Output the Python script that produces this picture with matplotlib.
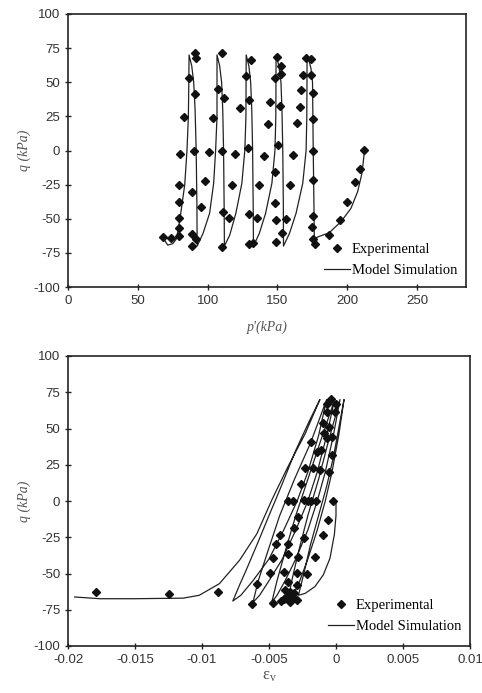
import matplotlib
matplotlib.use("Agg")
import matplotlib.pyplot as plt
from matplotlib.lines import Line2D

plt.rcParams["axes.unicode_minus"] = False

# ---------------- data: top panel (q vs p') ----------------
top_exp_p = [67.9, 74.0, 79.3, 79.3, 79.3, 79.3, 79.3, 80.5, 82.9, 86.4, 91.2, 91.7, 91.2, 90.5,
             88.8, 88.8, 88.8, 91.9,
             95.5, 98.3, 101.0, 103.8, 107.1, 110.0, 111.4, 110.5, 110.7, 110.2, 115.2, 117.4,
             119.8, 123.1, 127.4, 131.0, 129.8, 128.8, 129.8, 129.8, 132.6, 135.0, 136.9,
             140.5, 143.3, 145.0, 148.3, 150.0, 152.4, 152.4, 151.7, 150.2, 147.9, 147.9, 148.6,
             148.6, 153.1, 156.0, 158.8, 161.4, 163.8, 166.0, 167.1, 168.6, 170.5, 173.8, 174.3,
             175.2, 175.2, 175.2, 175.2, 175.2, 175.0, 175.7, 176.9,
             186.9, 194.8, 200.0, 205.2, 209.3, 212.1]
top_exp_q = [-63.4, -64.4, -62.9, -57.1, -49.5, -37.8, -25.1, -2.4, 24.4, 53.2, 71.7, 67.6, 41.2, -0.2,
             -30.7, -61.2, -70.2, -64.6,
             -41.5, -22.7, -1.2, 23.7, 44.9, 71.2, 38.3, -0.2, -45.1, -70.7, -49.5, -25.6,
             -2.4, 31.0, 54.9, 66.3, 37.1, 1.7, -46.6, -68.3, -67.8, -49.5, -25.6,
             -3.7, 19.3, 35.4, 52.9, 68.3, 62.0, 56.1, 32.7, 3.7, -15.4, -38.5, -51.2,
             -67.3, -60.5, -50.0, -25.6, -3.2, 20.5, 32.2, 44.1, 55.1, 67.6, 66.8, 55.1,
             42.4, 23.2, 0.0, -21.5, -47.8, -56.1, -64.6, -68.5,
             -61.7, -50.7, -37.8, -23.2, -13.4, 0.5]

top_model_p = [212.4, 210.5, 207.4, 202.6, 195.5, 187.1, 176.4,
               176.0, 175.6, 175.3, 175.1, 174.0, 172.5, 171.2,
               171.1, 171.0, 170.5, 168.1, 163.3, 158.6, 154.3,
               154.2, 153.8, 153.2, 152.5, 151.0, 149.0,
               148.9, 148.8, 148.2, 146.0, 141.5, 137.0, 132.8,
               132.6, 132.2, 131.6, 130.8, 129.5, 127.6,
               127.5, 127.4, 126.6, 124.5, 120.2, 115.8, 112.0,
               111.8, 111.4, 110.8, 110.0, 108.6, 106.7,
               106.7, 106.7, 105.7, 104.3, 101.4, 96.7, 92.5,
               92.3, 91.8, 91.0, 90.0, 88.6, 86.7,
               86.5, 86.2, 85.2, 83.6, 80.2, 78.5, 77.4, 75.0, 71.4, 69.5]
top_model_q = [0.4, -16.7, -30.2, -42.4, -52.1, -60.2, -64.3,
               -30.0, 0.0, 30.0, 50.0, 60.0, 66.0, 70.0,
               45.0, 24.0, 0.0, -24.0, -46.0, -60.7, -70.0,
               -40.0, 0.0, 30.0, 50.0, 62.0, 70.0,
               45.0, 24.0, 0.0, -24.0, -46.0, -60.7, -70.0,
               -40.0, 0.0, 30.0, 50.0, 62.0, 70.0,
               45.0, 24.0, 0.0, -24.0, -46.0, -62.0, -70.0,
               -40.0, 0.0, 30.0, 50.0, 62.0, 70.0,
               45.0, 24.8, 0.0, -24.0, -46.0, -60.7, -70.0,
               -40.0, 0.0, 30.0, 50.0, 62.0, 70.0,
               50.0, 25.0, 0.0, -25.0, -50.0, -60.0, -65.1, -68.3, -69.3, -66.3]

# ---------------- data: bottom panel (q vs eps_v) ----------------
bot_exp_e = [-0.0179, -0.0125, -0.0088,
             -0.0063, -0.0059, -0.0047, -0.0049, -0.0047, -0.0045, -0.0042,
             -0.0036, -0.0032, -0.0024, -0.0021, -0.0019, -0.0015, -0.0002,
             -0.0028, -0.0031, -0.0006, -0.0010, -0.0036, -0.0024, -0.0016, -0.0036,
             -0.0028, -0.0039, -0.0029, -0.0022, -0.0036, -0.0029, -0.0038, -0.0034,
             -0.0031, -0.0037, -0.0029, -0.0034, -0.0039, -0.0033, -0.0041,
             -0.0004, -0.0007, 0.0000, -0.0007, -0.0001, -0.0010, -0.0005, -0.0019,
             -0.0007, -0.0011, -0.0014, -0.0023, -0.0017, -0.0012, -0.0005, -0.0003,
             -0.0009, -0.0003, -0.0026]
bot_exp_q = [-62.8, -63.9, -62.8,
             -70.8, -57.0, -70.6, -49.9, -39.5, -29.9, -23.4,
             0.0, 0.0, 0.7, 0.0, 0.0, 0.0, 0.0,
             -10.8, -18.9, -13.1, -23.4, -29.9, -25.7, -38.4, -36.8,
             -38.4, -49.2, -49.9, -50.6, -55.6, -57.9, -61.4, -62.5,
             -63.7, -66.0, -68.3, -69.4, -67.6, -66.5, -69.0,
             70.6, 67.1, 67.1, 61.6, 61.6, 53.6, 51.3, 40.9,
             43.2, 35.2, 34.0, 22.6, 22.6, 21.4, 20.2, 31.5,
             47.0, 44.0, 12.0]

bot_model_e = [0.0000, 0.0000, -0.00012, -0.00045, -0.00095, -0.00157, -0.0023, -0.0028,
               -0.0024, -0.0019, -0.0013, -0.0007, -0.0002, 0.0002, 0.0006,
               0.0002, -0.0003, -0.0008, -0.0014, -0.0021, -0.0027, -0.0032, -0.0036,
               -0.0033, -0.0028, -0.0021, -0.0013, -0.0006, 0.0003,
               -0.0002, -0.0008, -0.0014, -0.0021, -0.0030, -0.0038, -0.0044, -0.0048,
               -0.0044, -0.0038, -0.0030, -0.0021, -0.0012, -0.0001,
               -0.0007, -0.0014, -0.0021, -0.0030, -0.0040, -0.0050, -0.0057, -0.0062,
               -0.0058, -0.0051, -0.0042, -0.0031, -0.0019, -0.0007,
               -0.0013, -0.0021, -0.0029, -0.0039, -0.0050, -0.0062, -0.0071, -0.0077,
               -0.0072, -0.0067, -0.0058, -0.0050, -0.0042, -0.0030, -0.0020, -0.0012,
               -0.0023, -0.0036, -0.0048, -0.0059, -0.0072, -0.0087, -0.0102, -0.0114,
               -0.0151, -0.0176, -0.0195]
bot_model_q = [0.0, -10.0, -23.0, -39.5, -51.0, -59.0, -63.7, -65.0,
               -50.0, -30.0, -10.0, 10.0, 30.0, 50.0, 70.0,
               45.0, 20.0, 0.0, -20.0, -40.0, -55.0, -65.0, -69.0,
               -55.0, -35.0, -10.0, 15.0, 40.0, 70.0,
               45.0, 20.0, 0.0, -20.0, -40.0, -55.0, -65.0, -70.0,
               -55.0, -35.0, -10.0, 15.0, 40.0, 70.0,
               45.0, 20.0, 0.0, -20.0, -40.0, -55.0, -65.0, -70.0,
               -55.0, -35.0, -10.0, 15.0, 40.0, 70.0,
               45.0, 20.0, 0.0, -20.0, -40.0, -55.0, -65.0, -69.0,
               -58.0, -47.6, -28.0, -10.0, 7.6, 35.0, 55.0, 70.0,
               46.4, 23.4, 0.5, -22.5, -40.9, -57.0, -65.0, -67.0,
               -67.4, -67.4, -66.2]

top_xticks = [0, 50, 100, 150, 200, 250]
yticks = [-100, -75, -50, -25, 0, 25, 50, 75, 100]
bot_xticks = [-0.02, -0.015, -0.01, -0.005, 0, 0.005, 0.01]
bot_xticklabels = ["-0.02", "-0.015", "-0.01", "-0.005", "0", "0.005", "0.01"]

# ---------------- figure ----------------
W, H = 482, 693
fig = plt.figure(figsize=(W / 100, H / 100), dpi=100)

def ax_rect(l, t, r, b):
    return [l / W, 1 - b / H, (r - l) / W, (b - t) / H]

ax1 = fig.add_axes(ax_rect(68, 14, 466, 287))
ax2 = fig.add_axes(ax_rect(68, 356, 470, 646))

label_font = dict(family="Liberation Serif", style="italic", size=10, color="#555555")
line_col = "#222222"
mk = dict(linestyle="none", marker="D", ms=4.2, color="#111111")

def style(ax):
    for s in ax.spines.values():
        s.set_linewidth(1.2)
        s.set_color("#222222")
    ax.tick_params(direction="inout", length=5, width=1.0, color="#222222", pad=3)
    for lab in ax.get_xticklabels() + ax.get_yticklabels():
        lab.set_fontfamily("Liberation Sans")
        lab.set_fontsize(9.5)
        lab.set_color("#333333")

# top panel
ax1.plot(top_model_p, top_model_q, color=line_col, lw=0.9)
ax1.plot(top_exp_p, top_exp_q, **mk)
ax1.set_xlim(0, 285)
ax1.set_ylim(-100, 100)
ax1.set_xticks(top_xticks)
ax1.set_yticks(yticks)
style(ax1)
ax1.set_xlabel("p'(kPa)", **label_font, labelpad=10)
ax1.set_ylabel("q (kPa)", **label_font, labelpad=2)

# bottom panel
ax2.plot(bot_model_e, bot_model_q, color=line_col, lw=0.9)
ax2.plot(bot_exp_e, bot_exp_q, **mk)
ax2.set_xlim(-0.02, 0.01)
ax2.set_ylim(-100, 100)
ax2.set_xticks(bot_xticks)
ax2.set_xticklabels(bot_xticklabels)
ax2.set_yticks(yticks)
style(ax2)
ax2.set_xlabel(r"$\mathregular{\varepsilon_v}$", family="Liberation Serif", fontsize=12,
               color="#555555", labelpad=2)
ax2.set_ylabel("q (kPa)", **label_font, labelpad=2)

handles = [Line2D([], [], **mk), Line2D([], [], color=line_col, lw=0.9)]
labels = ["Experimental", "Model Simulation"]
for ax, yb in ((ax1, 0.005), (ax2, 0.015)):
    ax.legend(handles, labels, loc="lower right", frameon=False,
              prop=dict(family="Liberation Serif", size=10.5),
              handlelength=1.8, handletextpad=0.1, labelspacing=0.5,
              borderaxespad=0.2, bbox_to_anchor=(1.0, yb))

fig.savefig("out.png", dpi=100)
